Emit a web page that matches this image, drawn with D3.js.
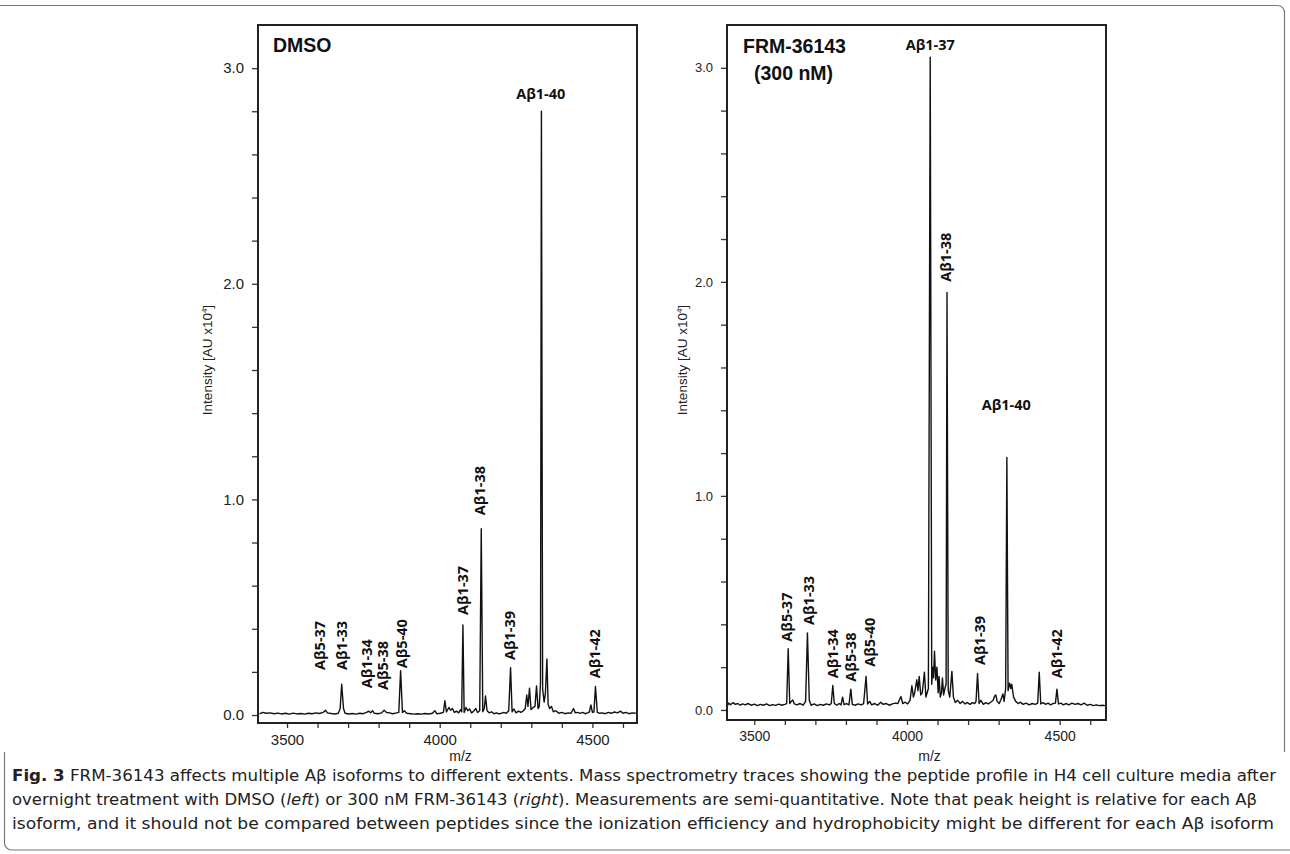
<!DOCTYPE html>
<html>
<head>
<meta charset="utf-8">
<script src="https://cdn.jsdelivr.net/npm/d3@7"></script>
<style>
  body { margin: 0; background: #fff; }
  svg { display: block; }
</style>
</head>
<body>
<svg id="fig" width="1290" height="854"></svg>
<script>
// traces: [m/z, intensity (AU x10^4)]
var dmsoTrace = [
  [3410,0.005],[3420,0.012],[3432,0.008],[3445,0.010],[3458,0.006],[3470,0.009],[3482,0.005],[3495,0.008],
  [3508,0.004],[3520,0.009],[3532,0.005],[3545,0.007],[3557,0.004],[3570,0.008],[3582,0.006],[3595,0.010],
  [3606,0.007],[3618,0.012],[3626,0.022],[3632,0.010],[3645,0.007],[3657,0.005],[3668,0.008],[3674,0.030],
  [3679,0.143],[3685,0.030],[3690,0.008],[3702,0.005],[3714,0.007],[3726,0.004],[3738,0.008],[3750,0.006],
  [3760,0.012],[3768,0.018],[3774,0.010],[3780,0.020],[3786,0.008],[3798,0.006],[3810,0.010],[3818,0.022],
  [3826,0.012],[3836,0.010],[3846,0.006],[3856,0.009],[3866,0.012],[3872,0.206],[3878,0.012],[3884,0.020],
  [3892,0.008],[3904,0.006],[3916,0.004],[3928,0.006],[3940,0.004],[3952,0.007],[3964,0.005],[3976,0.008],
  [3984,0.020],[3990,0.006],[4002,0.008],[4012,0.012],[4017,0.066],[4022,0.014],[4030,0.035],[4036,0.022],
  [4042,0.030],[4048,0.012],[4055,0.018],[4062,0.010],[4068,0.025],[4072,0.015],[4076,0.418],[4080,0.012],
  [4086,0.035],[4092,0.020],[4098,0.028],[4104,0.010],[4110,0.016],[4118,0.030],[4124,0.012],[4131,0.020],
  [4136,0.864],[4141,0.015],[4146,0.030],[4150,0.088],[4155,0.020],[4162,0.010],[4170,0.015],[4178,0.006],
  [4186,0.010],[4194,0.005],[4202,0.008],[4210,0.012],[4218,0.008],[4226,0.020],[4232,0.220],[4237,0.015],
  [4243,0.028],[4250,0.010],[4258,0.018],[4266,0.012],[4274,0.020],[4280,0.030],[4285,0.093],[4289,0.040],
  [4294,0.124],[4299,0.025],[4306,0.035],[4312,0.040],[4317,0.135],[4322,0.030],[4326,0.040],[4330,0.150],
  [4333,2.800],[4337,0.120],[4342,0.060],[4346,0.100],[4351,0.260],[4355,0.050],[4360,0.030],[4366,0.040],
  [4372,0.015],[4380,0.020],[4390,0.008],[4400,0.012],[4410,0.006],[4420,0.010],[4430,0.008],[4438,0.030],
  [4444,0.010],[4452,0.012],[4460,0.008],[4468,0.012],[4476,0.006],[4484,0.010],[4490,0.014],[4495,0.047],
  [4500,0.012],[4505,0.014],[4510,0.132],[4516,0.012],[4524,0.008],[4532,0.010],[4542,0.006],[4552,0.012],
  [4562,0.008],[4572,0.014],[4582,0.010],[4592,0.018],[4600,0.008],[4610,0.012],[4620,0.006],[4630,0.010],
  [4642,0.008]
];

var frmTrace = [
  [3412,0.020],[3416,0.032],[3422,0.024],[3430,0.034],[3438,0.026],[3446,0.030],[3454,0.022],[3462,0.028],
  [3470,0.024],[3480,0.030],[3490,0.022],[3500,0.027],[3510,0.020],[3520,0.026],[3530,0.022],[3540,0.028],
  [3550,0.020],[3560,0.025],[3570,0.021],[3580,0.027],[3590,0.022],[3600,0.026],[3606,0.030],[3611,0.286],
  [3616,0.030],[3621,0.040],[3626,0.047],[3631,0.028],[3640,0.024],[3650,0.030],[3660,0.022],[3668,0.040],
  [3674,0.360],[3680,0.045],[3686,0.022],[3696,0.028],[3706,0.020],[3716,0.026],[3726,0.022],[3736,0.028],
  [3746,0.024],[3752,0.030],[3757,0.114],[3762,0.030],[3770,0.022],[3778,0.030],[3784,0.024],[3789,0.060],
  [3794,0.025],[3802,0.030],[3810,0.024],[3816,0.097],[3821,0.026],[3830,0.022],[3840,0.028],[3850,0.024],
  [3858,0.030],[3866,0.157],[3871,0.028],[3878,0.040],[3884,0.024],[3894,0.030],[3904,0.022],[3914,0.036],
  [3922,0.026],[3932,0.030],[3942,0.022],[3952,0.028],[3962,0.032],[3970,0.030],[3980,0.063],[3986,0.030],
  [3994,0.036],[4002,0.028],[4010,0.045],[4016,0.113],[4021,0.060],[4025,0.080],[4032,0.141],[4036,0.090],
  [4040,0.157],[4045,0.070],[4050,0.080],[4057,0.176],[4062,0.060],[4066,0.080],[4070,0.100],[4076,3.050],
  [4081,0.120],[4084,0.200],[4087,0.150],[4090,0.274],[4094,0.140],[4098,0.200],[4102,0.080],[4105,0.157],
  [4109,0.060],[4113,0.080],[4116,0.149],[4120,0.070],[4124,0.100],[4128,0.120],[4131,1.950],[4135,0.090],
  [4140,0.060],[4147,0.180],[4152,0.060],[4158,0.035],[4166,0.045],[4174,0.030],[4182,0.040],[4190,0.028],
  [4198,0.035],[4206,0.026],[4214,0.034],[4222,0.030],[4226,0.040],[4231,0.170],[4236,0.030],[4242,0.045],
  [4250,0.026],[4258,0.034],[4266,0.028],[4274,0.036],[4282,0.045],[4287,0.065],[4291,0.070],[4295,0.040],
  [4302,0.030],[4308,0.050],[4314,0.075],[4318,0.040],[4323,0.100],[4327,1.180],[4331,0.090],[4336,0.125],
  [4340,0.100],[4343,0.120],[4349,0.060],[4356,0.040],[4364,0.030],[4372,0.036],[4380,0.026],[4390,0.032],
  [4400,0.024],[4410,0.030],[4420,0.026],[4428,0.032],[4433,0.176],[4438,0.028],[4446,0.034],[4454,0.026],
  [4462,0.032],[4470,0.024],[4478,0.030],[4486,0.032],[4491,0.097],[4496,0.028],[4504,0.032],[4512,0.024],
  [4520,0.030],[4530,0.024],[4540,0.032],[4550,0.026],[4560,0.030],[4570,0.024],[4580,0.032],[4590,0.022],
  [4600,0.026],[4610,0.020],[4620,0.024],[4630,0.020],[4640,0.022],[4648,0.020]
];

// peak annotations: name, m/z, level (intensity where the text starts), upright or flat
var dmsoNames = ["Aβ5-37","Aβ1-33","Aβ1-34","Aβ5-38","Aβ5-40","Aβ1-37","Aβ1-38","Aβ1-39","Aβ1-40","Aβ1-42"];
var dmsoNameMz = [3608,3679,3761,3815,3875,4077,4132,4230,4331,4508];
var dmsoNameLevel = [0.209,0.209,0.124,0.116,0.217,0.464,0.927,0.255,2.857,0.170];
var dmsoNameFlat = [false,false,false,false,false,false,false,false,true,false];

var frmNames = ["Aβ5-37","Aβ1-33","Aβ1-34","Aβ5-38","Aβ5-40","Aβ1-37","Aβ1-38","Aβ1-39","Aβ1-40","Aβ1-42"];
var frmNameMz = [3606,3677,3757,3816,3879,4076,4128,4238,4325,4491];
var frmNameLevel = [0.319,0.397,0.148,0.132,0.202,3.084,2.000,0.210,1.400,0.148];
var frmNameFlat = [false,false,false,false,false,true,false,false,true,false];

var yTickValues = [0,0.2,0.4,0.6,0.8,1.0,1.2,1.4,1.6,1.8,2.0,2.2,2.4,2.6,2.8,3.0];
var yTickLabels = [0,1,2,3];
var xTickValues = [3500,3600,3700,3800,3900,4000,4100,4200,4300,4400,4500,4600];
var xTickLabels = [3500,4000,4500];

var captionLines = [
  [["Fig. 3", "b"], [" FRM-36143 affects multiple Aβ isoforms to different extents. Mass spectrometry traces showing the peptide profile in H4 cell culture media after", ""]],
  [["overnight treatment with DMSO (", ""], ["left", "i"], [") or 300 nM FRM-36143 (", ""], ["right", "i"], ["). Measurements are semi-quantitative. Note that peak height is relative for each Aβ", ""]],
  [["isoform, and it should not be compared between peptides since the ionization efficiency and hydrophobicity might be different for each Aβ isoform", ""]]
];

var svg = d3.select("#fig");

var panels = [
  {
    trace: dmsoTrace, names: dmsoNames, mz: dmsoNameMz, level: dmsoNameLevel, flat: dmsoNameFlat,
    left: 258, right: 637, top: 25, bottom: 723,
    xDomain: [3405, 4646], yDomain: [-0.037, 3.2],
    yTickFont: 15, xTickFont: 15, yTitleX: 207,
    title: [{t: "DMSO", x: 273, y: 52}]
  },
  {
    trace: frmTrace, names: frmNames, mz: frmNameMz, level: frmNameLevel, flat: frmNameFlat,
    left: 727, right: 1106, top: 25, bottom: 720,
    xDomain: [3410.6, 4651.6], yDomain: [-0.047, 3.2],
    yTickFont: 13, xTickFont: 14, yTitleX: 682,
    title: [{t: "FRM-36143", x: 743, y: 53}, {t: "(300 nM)", x: 754, y: 80}]
  }
];

panels.forEach(function(p) {
  var x = d3.scaleLinear().domain(p.xDomain).range([p.left, p.right]);
  var y = d3.scaleLinear().domain(p.yDomain).range([p.bottom, p.top]);
  var g = svg.append("g");

  // y axis
  var yAxis = g.append("g")
    .attr("transform", "translate(" + p.left + ",0)")
    .call(d3.axisLeft(y).tickValues(yTickValues).tickSizeOuter(0).tickSize(6).tickPadding(8)
      .tickFormat(function(d) {
        var lab = yTickLabels.find(function(v) { return Math.abs(v - d) < 1e-6; });
        return lab === undefined ? "" : d3.format(".1f")(lab);
      }));
  yAxis.select(".domain").remove();
  yAxis.selectAll("text").attr("font-family", "Arial, 'Liberation Sans', sans-serif")
    .attr("font-size", p.yTickFont).attr("fill", "#222");
  yAxis.selectAll("line").attr("stroke", "#333").attr("stroke-width", 1.3);

  // x axis
  var xAxis = g.append("g")
    .attr("transform", "translate(0," + p.bottom + ")")
    .call(d3.axisBottom(x).tickValues(xTickValues).tickSizeOuter(0).tickSize(5).tickPadding(6)
      .tickFormat(function(d) { return xTickLabels.indexOf(d) >= 0 ? d : ""; }));
  xAxis.select(".domain").remove();
  xAxis.selectAll("text").attr("font-family", "Arial, 'Liberation Sans', sans-serif")
    .attr("font-size", p.xTickFont).attr("fill", "#222");
  xAxis.selectAll("line").attr("stroke", "#333").attr("stroke-width", 1.3);

  // trace
  g.append("path")
    .datum(p.trace)
    .attr("fill", "none")
    .attr("stroke", "#111")
    .attr("stroke-width", 1.4)
    .attr("stroke-linejoin", "round")
    .attr("d", d3.line().x(function(d) { return x(d[0]); }).y(function(d) { return y(d[1]); }));

  // frame
  g.append("rect")
    .attr("x", p.left).attr("y", p.top)
    .attr("width", p.right - p.left).attr("height", p.bottom - p.top)
    .attr("fill", "none").attr("stroke", "#222").attr("stroke-width", 2);

  // peak names
  p.names.forEach(function(n, i) {
    var t = g.append("text")
      .attr("font-family", "'Open Sans', 'DejaVu Sans', sans-serif")
      .attr("font-weight", "bold")
      .attr("font-size", 14.5)
      .attr("fill", "#111")
      .text(n);
    if (p.flat[i]) {
      t.attr("x", x(p.mz[i])).attr("y", y(p.level[i])).attr("text-anchor", "middle");
    } else {
      t.attr("transform", "translate(" + x(p.mz[i]) + "," + y(p.level[i]) + ") rotate(-90)")
        .attr("dy", "0.36em");
    }
  });

  // panel title
  p.title.forEach(function(tt) {
    g.append("text").attr("x", tt.x).attr("y", tt.y)
      .attr("font-family", "Arial, 'Liberation Sans', sans-serif")
      .attr("font-weight", "bold").attr("font-size", 19.5).attr("fill", "#111")
      .text(tt.t);
  });

  // axis titles
  var yt = g.append("text")
    .attr("transform", "translate(" + p.yTitleX + ",360) rotate(-90)")
    .attr("text-anchor", "middle").attr("dy", "0.35em")
    .attr("font-family", "Arial, 'Liberation Sans', sans-serif").attr("font-size", 13.5).attr("fill", "#222");
  yt.append("tspan").text("Intensity [AU x10");
  yt.append("tspan").attr("font-size", 8).attr("dy", "-0.6em").text("4");
  yt.append("tspan").attr("dy", "0.4em").text("]");

  g.append("text")
    .attr("x", (p.left + p.right) / 2 + 13).attr("y", 761)
    .attr("text-anchor", "middle")
    .attr("font-family", "Arial, 'Liberation Sans', sans-serif").attr("font-size", 14).attr("fill", "#222")
    .text("m/z");
});

// figure border
svg.append("path")
  .attr("d", "M0,5.5 H1277 A7,7 0 0 1 1284.5,12.5 V752")
  .attr("fill", "none").attr("stroke", "#777").attr("stroke-width", 1.2);
svg.append("path")
  .attr("d", "M4.5,752 V843 A7,7 0 0 0 11.5,850 H1290")
  .attr("fill", "none").attr("stroke", "#777").attr("stroke-width", 1.2);

// caption
var capWidths = [1264, 1245, 1262];
var capBase = [781, 805, 829];
captionLines.forEach(function(line, i) {
  var t = svg.append("text")
    .attr("x", 12).attr("y", capBase[i])
    .attr("font-family", "'Liberation Sans Narrow', 'DejaVu Sans Condensed', 'Roboto', sans-serif")
    .attr("font-size", 16.5).attr("fill", "#222")
    .attr("textLength", capWidths[i]).attr("lengthAdjust", "spacingAndGlyphs");
  line.forEach(function(seg) {
    var s = t.append("tspan").text(seg[0]);
    if (seg[1] === "b") s.attr("font-weight", "bold");
    if (seg[1] === "i") s.attr("font-style", "italic");
  });
});
</script>
</body>
</html>
